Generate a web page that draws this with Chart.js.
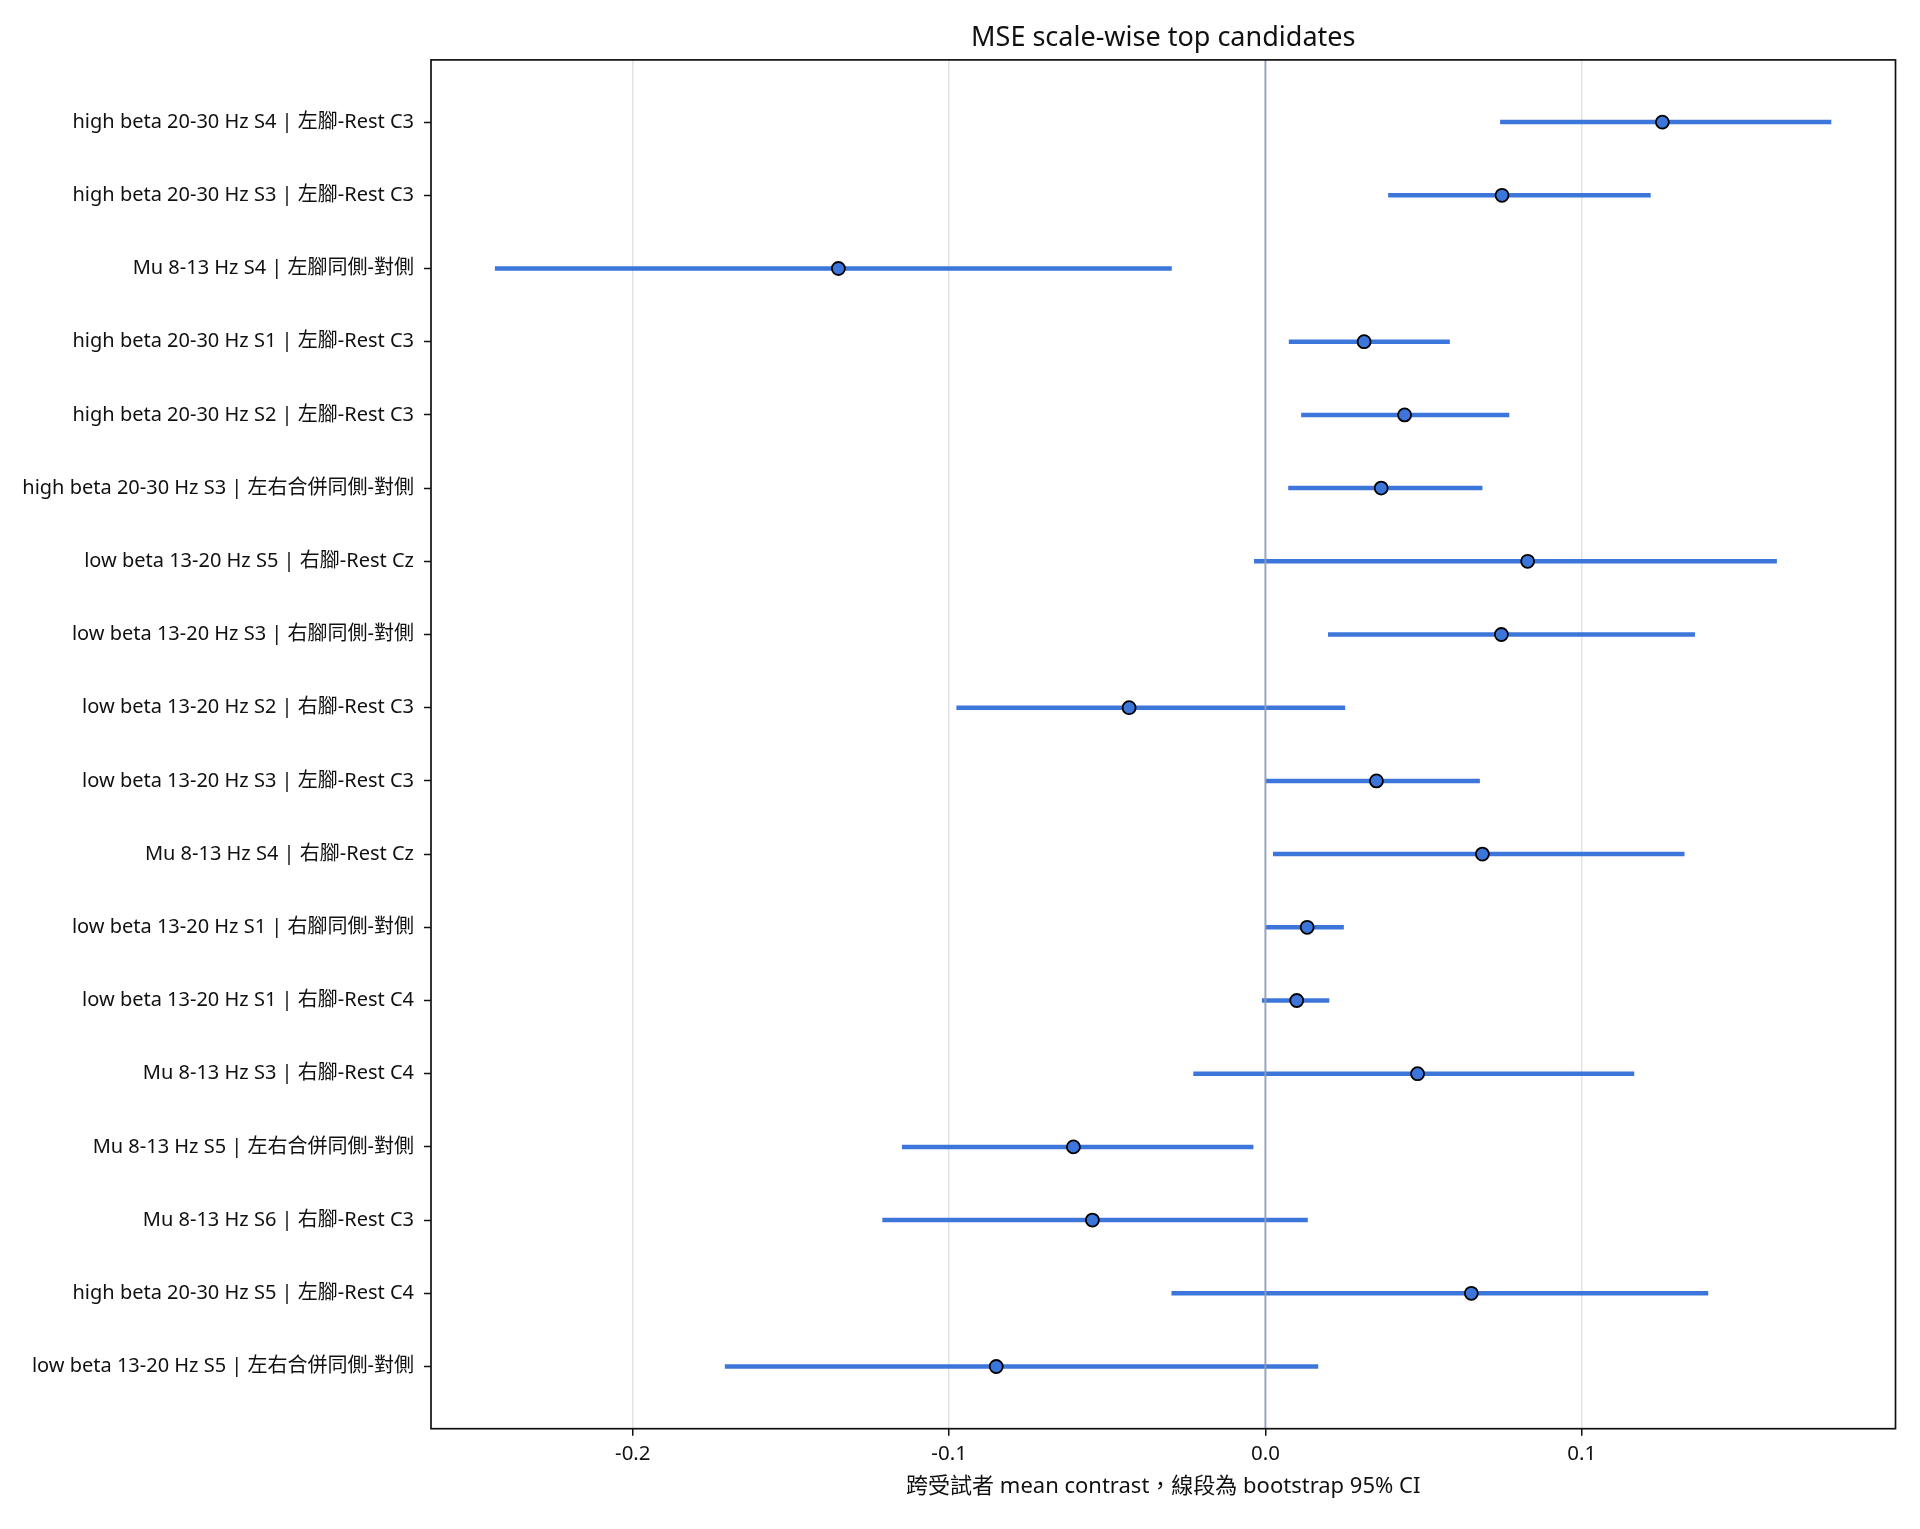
<!DOCTYPE html>
<html>
<head>
<meta charset="utf-8">
<script src="https://cdn.jsdelivr.net/npm/chart.js@4.4.1/dist/chart.umd.min.js"></script>
<style>
  html, body { margin: 0; padding: 0; background: #fff; }
  #wrap { width: 1920px; height: 1529px; position: relative; }
</style>
</head>
<body>
<div id="wrap"><canvas id="forestChart"></canvas></div>
<script>
// rows, top to bottom
const rowLabels = [
  "high beta 20-30 Hz S4 | 左腳-Rest C3",
  "high beta 20-30 Hz S3 | 左腳-Rest C3",
  "Mu 8-13 Hz S4 | 左腳同側-對側",
  "high beta 20-30 Hz S1 | 左腳-Rest C3",
  "high beta 20-30 Hz S2 | 左腳-Rest C3",
  "high beta 20-30 Hz S3 | 左右合併同側-對側",
  "low beta 13-20 Hz S5 | 右腳-Rest Cz",
  "low beta 13-20 Hz S3 | 右腳同側-對側",
  "low beta 13-20 Hz S2 | 右腳-Rest C3",
  "low beta 13-20 Hz S3 | 左腳-Rest C3",
  "Mu 8-13 Hz S4 | 右腳-Rest Cz",
  "low beta 13-20 Hz S1 | 右腳同側-對側",
  "low beta 13-20 Hz S1 | 右腳-Rest C4",
  "Mu 8-13 Hz S3 | 右腳-Rest C4",
  "Mu 8-13 Hz S5 | 左右合併同側-對側",
  "Mu 8-13 Hz S6 | 右腳-Rest C3",
  "high beta 20-30 Hz S5 | 左腳-Rest C4",
  "low beta 13-20 Hz S5 | 左右合併同側-對側"
];

const meanContrast = [0.1255, 0.0748, -0.1350, 0.0312, 0.0440, 0.0366, 0.0829, 0.0746, -0.0431,
  0.0351, 0.0686, 0.0132, 0.0099, 0.0481, -0.0607, -0.0547, 0.0651, -0.0851];
const ciLow = [0.0742, 0.0388, -0.2436, 0.0074, 0.0113, 0.0072, -0.0036, 0.0198, -0.0977,
  0.0000, 0.0024, 0.0000, -0.0011, -0.0228, -0.1149, -0.1211, -0.0297, -0.1709];
const ciHigh = [0.1789, 0.1218, -0.0296, 0.0583, 0.0771, 0.0686, 0.1617, 0.1358, 0.0252,
  0.0678, 0.1325, 0.0248, 0.0202, 0.1166, -0.0038, 0.0134, 0.1400, 0.0167];

const xTicks = [-0.2, -0.1, 0.0, 0.1];
const xRange = [-0.2638, 0.1992];
const yRange = [-0.85, 17.85];

const fontFamily = "'Noto Sans', 'Noto Sans CJK TC', sans-serif";
const blue = "#3c76da";

// CI segments, one small line dataset per row
const ciDatasets = rowLabels.map((lab, i) => ({
  type: "line",
  label: lab,
  data: [{ x: ciLow[i], y: i }, { x: ciHigh[i], y: i }],
  borderColor: blue,
  borderWidth: 4.5,
  borderCapStyle: "butt",
  pointRadius: 0,
  fill: false,
  order: 2
}));

const zeroLine = {
  type: "line",
  label: "zero",
  data: [{ x: 0, y: yRange[0] }, { x: 0, y: yRange[1] }],
  borderColor: "rgba(140,155,182,0.9)",
  borderWidth: 2,
  pointRadius: 0,
  order: 1
};

const meanPoints = {
  type: "scatter",
  label: "mean",
  data: meanContrast.map((v, i) => ({ x: v, y: i })),
  backgroundColor: blue,
  borderColor: "#000",
  borderWidth: 1.8,
  pointRadius: 6.5,
  order: 0
};

// black frame around the plot area
const frame = {
  id: "frame",
  afterDatasetsDraw(chart) {
    const a = chart.chartArea;
    const ctx = chart.ctx;
    ctx.save();
    ctx.strokeStyle = "#111";
    ctx.lineWidth = 1.7;
    ctx.strokeRect(a.left, a.top, a.right - a.left, a.bottom - a.top);
    ctx.restore();
  }
};

new Chart(document.getElementById("forestChart"), {
  data: { datasets: [...ciDatasets, zeroLine, meanPoints] },
  plugins: [frame],
  options: {
    responsive: true,
    maintainAspectRatio: false,
    animation: false,
    layout: { padding: { left: 0, right: 24.5, top: 0, bottom: 0 } },
    plugins: {
      legend: { display: false },
      tooltip: { enabled: false },
      title: {
        display: true,
        fullSize: false,
        text: "MSE scale-wise top candidates",
        color: "#111",
        font: { family: fontFamily, size: 27, weight: "normal", lineHeight: 1.2 },
        padding: { top: 22.5, bottom: 5 }
      }
    },
    scales: {
      x: {
        type: "linear",
        position: "bottom",
        min: xRange[0],
        max: xRange[1],
        afterBuildTicks: (s) => { s.ticks = xTicks.map(v => ({ value: v })); },
        afterFit: (s) => { s.height = 100.3; },
        border: { display: false },
        grid: {
          color: (c) => (c.tick && c.tick.value === 0 ? "rgba(0,0,0,0)" : "#dfe4eb"),
          lineWidth: 1.5,
          drawTicks: true,
          tickLength: 7,
          tickColor: "#111",
          tickWidth: 1.5
        },
        ticks: {
          color: "#111",
          padding: 6,
          font: { family: fontFamily, size: 20.5 },
          callback: (v) => Number(v).toFixed(1)
        },
        title: {
          display: true,
          text: "跨受試者 mean contrast，線段為 bootstrap 95% CI",
          color: "#111",
          font: { family: fontFamily, size: 22, lineHeight: 1.2 },
          padding: { top: 0, bottom: 29 }
        }
      },
      y: {
        type: "linear",
        position: "left",
        reverse: true,
        min: yRange[0],
        max: yRange[1],
        afterBuildTicks: (s) => { s.ticks = rowLabels.map((l, i) => ({ value: i })); },
        afterFit: (s) => { s.width = 431; },
        border: { display: false },
        grid: {
          drawOnChartArea: false,
          drawTicks: true,
          tickLength: 7,
          tickColor: "#111",
          tickWidth: 1.5
        },
        ticks: {
          color: "#111",
          padding: 10,
          autoSkip: false,
          font: { family: fontFamily, size: 20 },
          callback: (v) => rowLabels[v]
        }
      }
    }
  }
});
</script>
</body>
</html>
